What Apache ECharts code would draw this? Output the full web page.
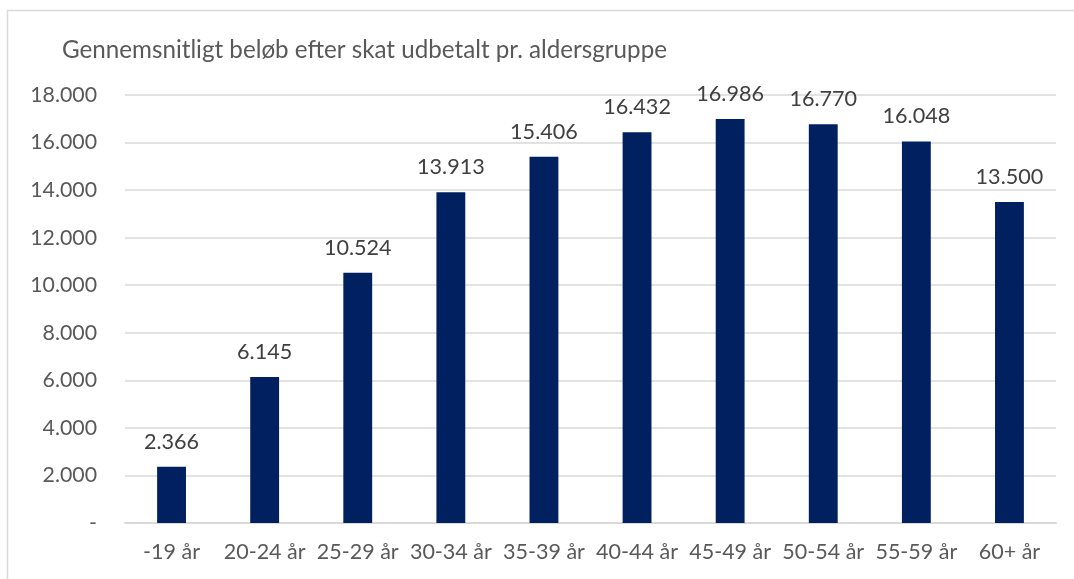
<!DOCTYPE html>
<html><head><meta charset="utf-8">
<script src="https://cdn.jsdelivr.net/npm/echarts@6/dist/echarts.min.js"></script>
<style>html,body{margin:0;padding:0;background:#fff}#c{width:1074px;height:579px}</style>
</head><body><div id="c"></div>
<script>
const categories = ['-19 år','20-24 år','25-29 år','30-34 år','35-39 år','40-44 år','45-49 år','50-54 år','55-59 år','60+ år'];
const values = [2366, 6145, 10524, 13913, 15406, 16432, 16986, 16770, 16048, 13500];
const titleText = 'Gennemsnitligt beløb efter skat udbetalt pr. aldersgruppe';
const fmt = v => v === 0 ? '-' : String(v).replace(/\B(?=(\d{3})+(?!\d))/g, '.');
const FONT = 'Lato, "Open Sans", sans-serif';
const chart = echarts.init(document.getElementById('c'), null, {renderer:'canvas'});
chart.setOption({
  animation:false,
  graphic:[{type:'rect',shape:{x:7.5,y:10.5,width:1100,height:600},style:{fill:'none',stroke:'#d9d9d9',lineWidth:1.5},z:-1}],
  title:{text:titleText,left:57,top:33,textStyle:{fontFamily:FONT,fontSize:24.2,fontWeight:'normal',color:'#595959'}},
  grid:{left:125,right:18,top:95,bottom:56},
  xAxis:{type:'category',data:categories,
    axisLine:{lineStyle:{color:'#d9d9d9',width:2}},axisTick:{show:false},
    axisLabel:{interval:0,fontFamily:FONT,fontSize:21.5,color:'#595959',margin:18}},
  yAxis:{type:'value',min:0,max:18000,interval:2000,
    axisLine:{show:false},axisTick:{show:false},
    splitLine:{lineStyle:{color:'#d9d9d9',width:1.5}},
    axisLabel:{fontFamily:FONT,fontSize:21.3,color:'#595959',margin:28,formatter:fmt}},
  series:[{type:'bar',data:values,barWidth:'31%',itemStyle:{color:'#002060'},
    label:{show:true,position:'top',distance:14,fontFamily:FONT,fontSize:21.6,color:'#404040',formatter:p=>fmt(p.value)}}]
});
</script></body></html>
